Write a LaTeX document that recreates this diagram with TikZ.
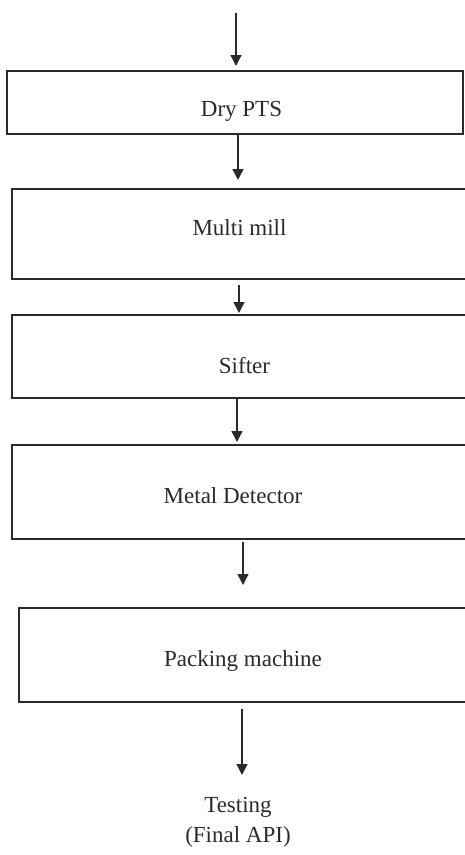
\documentclass[tikz,border=0pt]{standalone}
\usepackage{fontspec}
\setmainfont{Liberation Serif}
\usetikzlibrary{arrows.meta}
\definecolor{ink}{HTML}{2A2A2A}
\begin{document}
\begin{tikzpicture}[x=1pt,y=-1pt,
  font=\fontsize{23}{30}\selectfont,
  stepbox/.style={draw=ink,line width=1.5pt,text=ink,rectangle,inner sep=0pt,minimum height=0pt,anchor=north},
  arr/.style={draw=ink,line width=1.4pt,-{Triangle[length=11pt,width=11pt]}}]
\useasboundingbox (0,0) rectangle (465,855);
% boxes
\node[stepbox,minimum width=456pt,text height=45.6pt,text depth=17.4pt] (b1) at (235,70) {\hspace*{13pt}Dry PTS};
\node[stepbox,minimum width=455pt,text height=46.6pt,text depth=43.4pt] (b2) at (239.5,188) {Multi mill};
\node[stepbox,minimum width=455pt,text height=58.6pt,text depth=24.4pt] (b3) at (239.5,314) {\hspace*{10pt}Sifter};
\node[stepbox,minimum width=455pt,text height=58.6pt,text depth=35.4pt] (b4) at (239.5,444) {Metal Detector\hspace*{13pt}};
\node[stepbox,minimum width=448pt,text height=59pt,text depth=35pt] (b5) at (243,607) {Packing machine};
\node[text=ink,align=center,inner sep=0pt,anchor=north] (t) at (238,797) {Testing\\(Final API)};
% connectors
\coordinate (s) at (236,13);
\draw[arr,shorten >=4pt] (s) -- (s |- b1.north);
\draw[arr,shorten >=8pt] ([xshift=3pt]b1.south) -- ([xshift=3pt]b1.south |- b2.north);
\draw[arr,shorten <=5pt,shorten >=1pt] ([xshift=-0.5pt]b2.south) -- ([xshift=-0.5pt]b2.south |- b3.north);
\draw[arr,shorten >=2pt] ([xshift=-2.5pt]b3.south) -- ([xshift=-2.5pt]b3.south |- b4.north);
\draw[arr,shorten <=2pt,shorten >=22pt] ([xshift=3.5pt]b4.south) -- ([xshift=3.5pt]b4.south |- b5.north);
\draw[arr,shorten <=6pt,shorten >=22pt] ([xshift=-1pt]b5.south) -- ([xshift=-1pt]b5.south |- t.north);
\end{tikzpicture}
\end{document}
